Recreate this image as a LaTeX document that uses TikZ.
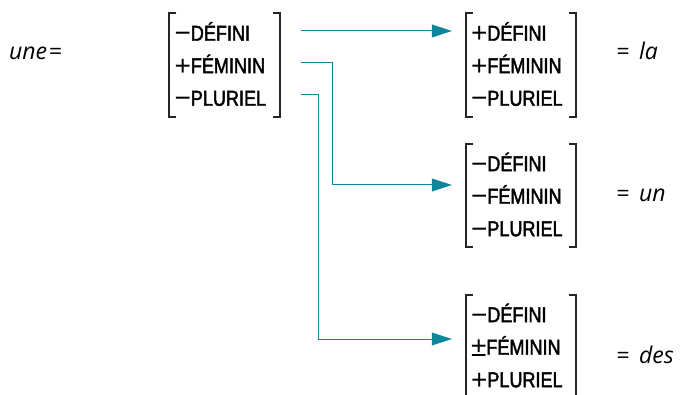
\documentclass[tikz,border=0pt]{standalone}
\usepackage{fontspec}
\usetikzlibrary{arrows.meta,calc}
\newfontfamily\cond[FakeStretch=0.84,FakeBold=2]{Liberation Sans}
\newfontfamily\signf{Liberation Sans}
\newfontfamily\osans{Open Sans}
\definecolor{teal1}{RGB}{16,134,156}
\newcommand\sgn[1]{\raisebox{-2.2pt}{\signf\fontsize{28}{28}\selectfont #1}}
\newcommand\smn{\sgn{−}}
\newcommand\spl{\sgn{+}}
\newcommand\spm{\sgn{±}}
\tikzset{
  fm/.style={inner xsep=5pt, inner ysep=0pt, minimum width=110pt, minimum height=103pt,
    text width=100pt, align=left, font=\cond\fontsize{21.5}{32.5}\selectfont},
  brk/.style={line width=2.2pt, line cap=butt, black!85},
  lab/.style={font=\osans\itshape\fontsize{23}{23}\selectfont, inner sep=0pt},
  conn/.style={draw=teal1, line width=1pt, -{Triangle[length=20pt,width=13pt,fill=teal1]}}
}
\begin{document}
\begin{tikzpicture}[x=1pt,y=1pt]
\useasboundingbox (0,0) rectangle (680,394);
\clip (0,0) rectangle (680,394);
% matrices
\node[fm] (A) at (224.5,329) {\smn DÉFINI\\\spl FÉMININ\\\smn PLURIEL};
\node[fm] (B) at (521,329) {\spl DÉFINI\\\spl FÉMININ\\\smn PLURIEL};
\node[fm] (C) at (521,198.5) {\smn DÉFINI\\\smn FÉMININ\\\smn PLURIEL};
\node[fm] (D) at (521,47.5) {\smn DÉFINI\\\spm FÉMININ\\\spl PLURIEL};
\foreach \n in {A,B,C,D}{
  \draw[brk] ([xshift=7pt]\n.north west) -- (\n.north west) -- (\n.south west) -- ([xshift=7pt]\n.south west);
  \draw[brk] ([xshift=-7pt]\n.north east) -- (\n.north east) -- (\n.south east) -- ([xshift=-7pt]\n.south east);
}
% labels
\node[lab, anchor=base west] (une) at (9,334) {une\kern1.5pt=};
\node[lab, anchor=base west] (la) at (616,334) {=\, la};
\node[lab, anchor=base west] (un) at (616,192) {=\, un};
\node[lab, anchor=base west] (des) at (616,31) {=\, des};
% connectors
\coordinate (a1) at ($(A.east)+(21,34)$);
\coordinate (a2) at ($(A.east)+(21,2)$);
\coordinate (a3) at ($(A.east)+(21,-30)$);
\coordinate (b1) at ($(B.west)+(-14,34)$);
\coordinate (c1) at ($(C.west)+(-14,10.5)$);
\coordinate (d1) at ($(D.west)+(-14,7.5)$);
\draw[conn] (a1) -- (b1);
\draw[conn] (a2) -- (a2 -| 332,0) -- (332,0 |- c1) -- (c1);
\draw[conn] (a3) -- (a3 -| 318,0) -- (318,0 |- d1) -- (d1);
\end{tikzpicture}
\end{document}
